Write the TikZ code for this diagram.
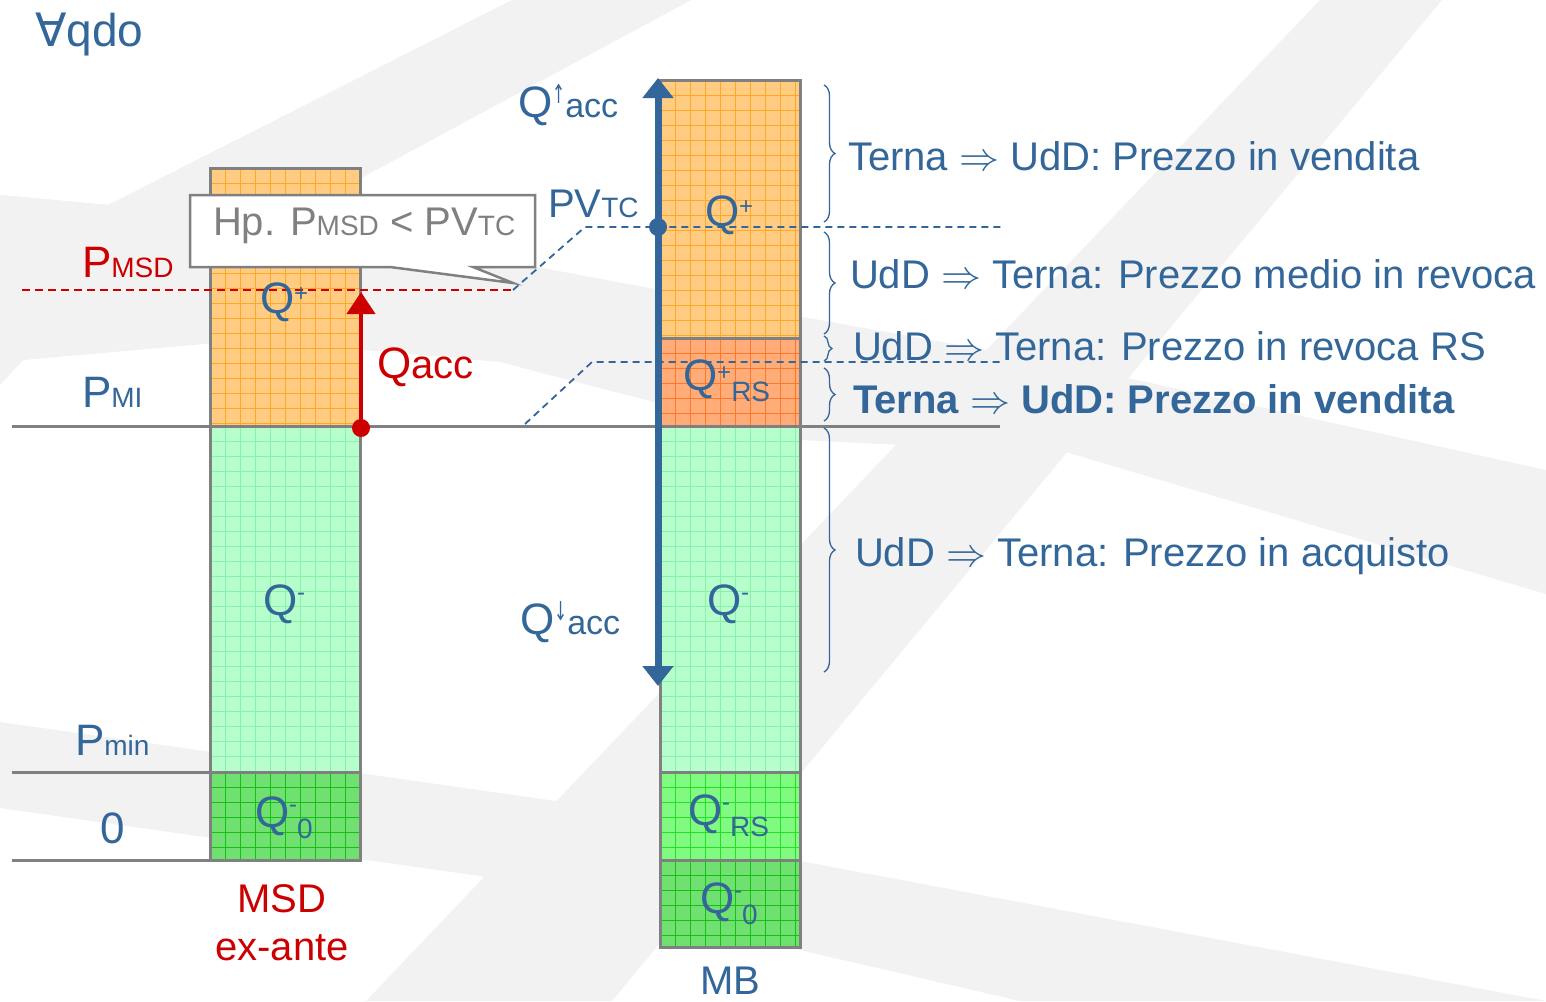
\RequirePackage{fix-cm}
\documentclass[tikz,border=0pt]{standalone}
\usepackage{fontspec}
\setmainfont{Liberation Sans}
\newfontfamily\djv{DejaVu Sans}
\usetikzlibrary{arrows.meta,decorations.pathreplacing}
\definecolor{tblue}{RGB}{51,102,153}
\definecolor{tred}{RGB}{204,0,0}
\definecolor{tgray}{RGB}{128,128,128}
\definecolor{wm}{RGB}{242,242,242}
\definecolor{orfill}{RGB}{255,204,130}
\definecolor{orgrid}{RGB}{255,168,40}
\definecolor{rsfill}{RGB}{255,172,120}
\definecolor{rsgrid}{RGB}{255,120,40}
\definecolor{lgfill}{RGB}{182,255,204}
\definecolor{lggrid}{RGB}{135,242,170}
\definecolor{bgfill}{RGB}{128,250,128}
\definecolor{bggrid}{RGB}{35,225,35}
\definecolor{dgfill}{RGB}{112,224,112}
\definecolor{dggrid}{RGB}{20,192,20}
\newcommand\fP{\fontsize{44}{48}\selectfont}
\newcommand\fQ{\fontsize{44}{48}\selectfont}
\newcommand\fL{\fontsize{40}{44}\selectfont}
\newcommand\fS{\fontsize{28}{30}\selectfont}
\newcommand\Qplus[2]{\raisebox{#1}{\fontsize{24}{26}\selectfont #2}}
\newcommand\Qlow[1]{\raisebox{-11pt}{\fontsize{28}{30}\selectfont #1}}
\newcommand\Qarr[2]{\raisebox{#1}{\scalebox{0.6}[1]{\djv\fontsize{26}{28}\selectfont #2}}}
\newcommand\colseg[6]{%
  \fill[#5] (#1,#2) rectangle (#3,#4);
  \begin{scope}
    \clip (#1,#2) rectangle (#3,#4);
    \pgfmathsetmacro\gxs{#1+15}
    \pgfmathsetmacro\gys{#2+15}
    \foreach \gx in {#1,\gxs,...,#3} \draw[#6,line width=0.8pt] (\gx,#2) -- (\gx,#4);
    \foreach \gy in {#2,\gys,...,#4} \draw[#6,line width=0.8pt] (#1,\gy) -- (#3,\gy);
  \end{scope}
  \draw[colborder] (#1,#2) rectangle (#3,#4);}
\begin{document}
\begin{tikzpicture}[x=1pt,y=-1pt,
  colborder/.style={draw=tgray,line width=3pt},
  axisline/.style={draw=tgray,line width=3pt},
  bdash/.style={draw=tblue,line width=1.8pt,dash pattern=on 7pt off 5pt},
  rdash/.style={draw=tred,line width=2pt,dash pattern=on 8pt off 5pt},
  lab/.style={anchor=base west,inner sep=0pt,outer sep=0pt},
  clab/.style={anchor=base,inner sep=0pt,outer sep=0pt},
  brc/.style={draw=tblue,line width=1.3pt,decorate,decoration={brace,amplitude=11pt}}]
\useasboundingbox (0,0) rectangle (1546,1001);
\fill[white] (0,0) rectangle (1546,1001);
% watermark
\fill[wm] (512,0) -- (691,0) -- (0,373) -- (0,195) -- (108,205) -- cycle;
\fill[wm] (0,195) -- (108,205) -- (500,260) -- (820,320) -- (1069,365) -- (1546,470) -- (1546,594) -- (1069,453) -- (800,440) -- (500,362) -- (250,340) -- (23,360) -- (0,385) -- cycle;
\fill[wm] (366,1001) -- (1320,0) -- (1442,0) -- (612,1001) -- cycle;
\fill[wm] (0,722) -- (556,801) -- (800,861) -- (1546,1001) -- (1020,1001) -- (800,950) -- (480,876) -- (0,808) -- cycle;
% axis lines
\coordinate (l426a) at (12,426); \coordinate (l426b) at (1000,426);
\coordinate (l772a) at (12,772); \coordinate (l772b) at (210,772);
\coordinate (l860a) at (12,860); \coordinate (l860b) at (210,860);
\draw[axisline] (l426a) -- (l426b);
\draw[axisline] (l772a) -- (l772b);
\draw[axisline] (l860a) -- (l860b);
% left column
\colseg{210}{168}{360}{426}{orfill}{orgrid}
\colseg{210}{426}{360}{772}{lgfill}{lggrid}
\colseg{210}{772}{360}{860}{dgfill}{dggrid}
% middle column
\colseg{660}{80}{800}{338}{orfill}{orgrid}
\colseg{660}{338}{800}{426}{rsfill}{rsgrid}
\colseg{660}{426}{800}{772}{lgfill}{lggrid}
\colseg{660}{772}{800}{860}{bgfill}{bggrid}
\colseg{660}{860}{800}{947}{dgfill}{dggrid}
% dashed lines
\coordinate (rd1) at (22,290); \coordinate (rd2) at (513,290);
\coordinate (bd1) at (585,227); \coordinate (bd2) at (1003,227);
\coordinate (bd3) at (525,424); \coordinate (bd4) at (592,362); \coordinate (bd5) at (1000,362);
\draw[rdash] (rd1) -- (rd2);
\draw[bdash] (rd2) -- (bd1) -- (bd2);
\draw[bdash] (bd3) -- (bd4) -- (bd5);
% callout
\draw[tgray,line width=2.5pt,fill=white,line join=miter] (190,195) -- (535,195) -- (535,267) -- (473,267) -- (513,283) -- (390,267) -- (190,267) -- cycle;
\node[lab,text=tgray,font=\fL] (hp) at (213,235) {Hp. P{\fS MSD} < PV{\fS TC}};
% arrows
\coordinate (atop) at (658,78); \coordinate (abot) at (658,686);
\draw[tblue,line width=7pt,{Triangle[width=30pt,length=20pt]}-{Triangle[width=30pt,length=20pt]}] (abot) -- (atop);
\fill[tblue] (658,227) circle[radius=9pt];
\coordinate (rdot) at (361,428); \coordinate (rtip) at (361,292);
\draw[tred,line width=4pt,-{Triangle[width=28pt,length=22pt]}] (rdot) -- (rtip);
\fill[tred] (rdot) circle[radius=9pt];
% braces
\coordinate (b1a) at (824,85);  \coordinate (b1b) at (824,222);
\coordinate (b2a) at (824,232); \coordinate (b2b) at (824,334);
\coordinate (b3a) at (824,336); \coordinate (b3b) at (824,361);
\coordinate (b4a) at (824,368); \coordinate (b4b) at (824,421);
\coordinate (b5a) at (824,428); \coordinate (b5b) at (824,672);
\draw[brc] (b1a) -- (b1b);
\draw[brc] (b2a) -- (b2b);
\draw[brc,decoration={brace,amplitude=8pt}] (b3a) -- (b3b);
\draw[brc] (b4a) -- (b4b);
\draw[brc] (b5a) -- (b5b);
% right texts
\node[lab,text=tblue,font=\fL] (t1) at (848,170) {Terna $\Rightarrow$ UdD: Prezzo in vendita};
\node[lab,text=tblue,font=\fL] (t2) at (850,288) {UdD $\Rightarrow$ Terna: Prezzo medio in revoca};
\node[lab,text=tblue,font=\fL] (t3) at (853,360) {UdD $\Rightarrow$ Terna: Prezzo in revoca RS};
\node[lab,text=tblue,font=\fL\bfseries] (t4) at (853,413) {Terna $\Rightarrow$ UdD: Prezzo in vendita};
\node[lab,text=tblue,font=\fL] (t5) at (855,566) {UdD $\Rightarrow$ Terna: Prezzo in acquisto};
% left labels
\node[lab,text=tblue,font=\fontsize{46}{50}\selectfont] (fa) at (35,46) {{\djv ∀}qdo};
\node[lab,text=tred,font=\fP] (pmsd) at (82,277) {P{\fS MSD}};
\node[lab,text=tblue,font=\fP] (pmi) at (82,407) {P{\fS MI}};
\node[lab,text=tblue,font=\fP] (pmin) at (75,755) {P{\fS min}};
\node[lab,text=tblue,font=\fP] (zero) at (100,843) {0};
\node[lab,text=tblue,font=\fL] (pvtc) at (548,217) {PV{\fS TC}};
\node[lab,text=tred,font=\fQ] (qacc) at (377,378) {Q{\fontsize{40}{44}\selectfont acc}};
\node[lab,text=tblue,font=\fQ] (qup) at (518,117) {Q\Qarr{14pt}{↑}{\fontsize{34}{36}\selectfont acc}};
\node[lab,text=tblue,font=\fQ] (qdn) at (520,634) {Q\Qarr{14pt}{↓}{\fontsize{34}{36}\selectfont acc}};
% column labels
\node[lab,text=tblue,font=\fQ] (lqp) at (260,313) {Q\Qplus{12pt}{+}};
\node[lab,text=tblue,font=\fQ] (lqm) at (263,615) {Q\Qplus{15pt}{-}};
\node[lab,text=tblue,font=\fQ] (lq0) at (255,827) {Q\Qplus{15pt}{-}\Qlow{0}};
\node[lab,text=tblue,font=\fQ] (mqp) at (705,226) {Q\Qplus{12pt}{+}};
\node[lab,text=tblue,font=\fQ] (mqrs) at (683,390) {Q\Qplus{10pt}{+}\Qlow{RS}};
\node[lab,text=tblue,font=\fQ] (mqm) at (707,615) {Q\Qplus{15pt}{-}};
\node[lab,text=tblue,font=\fQ] (mqmrs) at (688,825) {Q\Qplus{15pt}{-}\Qlow{RS}};
\node[lab,text=tblue,font=\fQ] (mq0) at (700,913) {Q\Qplus{15pt}{-}\Qlow{0}};
% column captions
\node[clab,text=tred,font=\fL] (msd) at (282,912) {MSD};
\node[clab,text=tred,font=\fL] (exa) at (282,960) {ex-ante};
\node[clab,text=tblue,font=\fL] (mb) at (730,994) {MB};
\end{tikzpicture}
\end{document}
